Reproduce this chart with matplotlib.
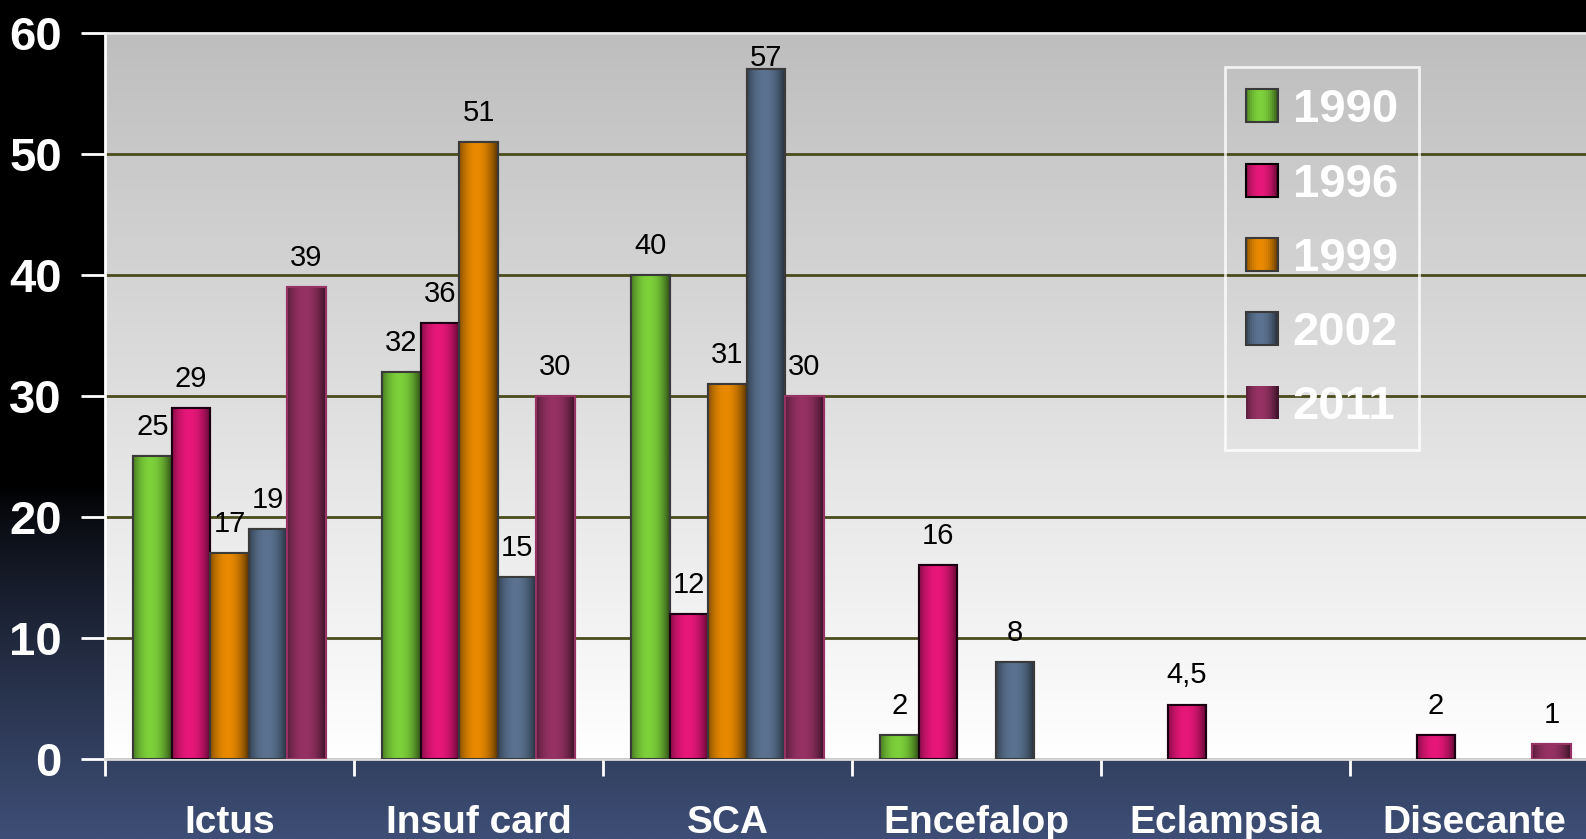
import numpy as np
import matplotlib
matplotlib.use('Agg')
from matplotlib import pyplot as plt
from matplotlib.patches import Rectangle
from matplotlib.legend_handler import HandlerBase
from matplotlib.colors import to_rgb

categories = ['Ictus', 'Insuf card', 'SCA', 'Encefalop', 'Eclampsia', 'Disecante']
years = ['1990', '1996', '1999', '2002', '2011']
v1990 = [25, 32, 40, 2, 0, 0]
v1996 = [29, 36, 12, 16, 4.5, 2]
v1999 = [17, 51, 31, 0, 0, 0]
v2002 = [19, 15, 57, 8, 0, 0]
v2011 = [39, 30, 30, 0, 0, 1.2]
lab1990 = ['25', '32', '40', '2', '', '']
lab1996 = ['29', '36', '12', '16', '4,5', '2']
lab1999 = ['17', '51', '31', '', '', '']
lab2002 = ['19', '15', '57', '8', '', '']
lab2011 = ['39', '30', '30', '', '', '1']

series = [v1990, v1996, v1999, v2002, v2011]
labels = [lab1990, lab1996, lab1999, lab2002, lab2011]
colors = ['#7dd13b', '#e8177a', '#e98a00', '#5b7391', '#963264']
edges = ['#3a3a3a', '#1a0010', '#3a3a3a', '#3a3a3a', '#963264']
leg_edges = ['#3a3a3a', '#000000', '#3a3a3a', '#3a3a3a', 'none']

plt.rcParams['font.family'] = ['Liberation Sans', 'DejaVu Sans']


def shade(c, t):
    f = 1 - 0.62 * (np.abs(t - 0.45) / 0.55) ** 2
    return np.clip(np.array(to_rgb(c)) * f, 0, 1)


class GradHandler(HandlerBase):
    def create_artists(self, legend, orig_handle, xdescent, ydescent,
                       width, height, fontsize, trans):
        c = orig_handle.get_facecolor()
        n = 16
        out = []
        for k in range(n):
            r = Rectangle((-xdescent + k * width / n, -ydescent), width / n + 0.3, height,
                          facecolor=shade(c, (k + 0.5) / n), edgecolor='none', transform=trans)
            out.append(r)
        out.append(Rectangle((-xdescent, -ydescent), width, height, facecolor='none',
                             edgecolor=orig_handle.get_edgecolor(), lw=1.5, transform=trans))
        return out


fig = plt.figure(figsize=(15.86, 8.39), dpi=100)

# figure background: black top fading to navy at the bottom
bg = fig.add_axes([0, 0, 1, 1], zorder=-10)
yy = np.linspace(0, 1, 400)
top = np.array([0, 0, 0])
bot = np.array([0x3e, 0x4e, 0x76]) / 255
mix = np.clip((0.42 - yy) / 0.42, 0, 1) ** 0.8
grad = (top[None, :] * (1 - mix[:, None]) + bot[None, :] * mix[:, None])[::-1]
bg.imshow(grad[:, None, :], aspect='auto', extent=[0, 1, 0, 1])
bg.axis('off')

ax = fig.add_axes([0.0662, 0.0954, 0.942, 0.8653])
ax.set_facecolor('none')
xmin, xmax = -0.5, 5.5
ymin, ymax = 0, 60

# plot area gradient
pg = np.linspace(0, 1, 200)
c_top = np.array([0xbe, 0xbe, 0xbe]) / 255
c_bot = np.array([1, 1, 1])
pgrad = c_top[None, :] * (1 - pg[:, None]) + c_bot[None, :] * pg[:, None]
ax.imshow(pgrad[:, None, :], aspect='auto', extent=[xmin, xmax, ymin, ymax], zorder=0)

x = np.arange(len(categories))
w = 0.1546
prof = np.linspace(0, 1, 64)
for i, vals in enumerate(series):
    xs = x + (i - 2) * w
    for xi, v, lb in zip(xs, vals, labels[i]):
        if v <= 0:
            continue
        b = ax.bar(xi, v, w, color=colors[i], edgecolor=edges[i], linewidth=1.5, zorder=3)[0]
        img = np.array([shade(colors[i], t) for t in prof])[None, :, :]
        im = ax.imshow(img, aspect='auto', extent=[xi - w / 2, xi + w / 2, 0, v],
                       interpolation='bilinear', zorder=3.5)
        im.set_clip_path(b)
        ax.bar(xi, v, w, color='none', edgecolor=edges[i], linewidth=1.5, zorder=4)
        ty = min(v + 2.4, 57.9)
        ax.text(xi, ty, lb, ha='center', va='center', fontsize=21, color='black', zorder=5)

ax.set_xlim(xmin, xmax)
ax.set_ylim(ymin, ymax)
ax.set_yticks(np.arange(0, 61, 10))
ax.yaxis.grid(True, color='#4b4b1e', linewidth=2, zorder=1)
ax.set_axisbelow(True)
ax.tick_params(axis='y', colors='white', length=17, width=2, pad=14, labelsize=34)
for t in ax.get_yticklabels():
    t.set_fontweight('bold')

ax.set_xticks(np.arange(-0.5, 5.6, 1.0))
ax.set_xticklabels([])
ax.tick_params(axis='x', colors='white', length=12, width=2)
ax.set_xticks(x, minor=True)
ax.set_xticklabels(categories, minor=True, fontsize=28, fontweight='bold', color='white')
ax.tick_params(axis='x', which='minor', length=0, pad=33)

ax.spines['right'].set_visible(False)
ax.spines['left'].set_color('white')
ax.spines['left'].set_linewidth(2)
ax.spines['top'].set_color('#eeeeee')
ax.spines['top'].set_linewidth(2)
ax.spines['bottom'].set_color('#d8d8d8')
ax.spines['bottom'].set_linewidth(2)

handles = [Rectangle((0, 0), 1, 1, facecolor=colors[i], edgecolor=leg_edges[i]) for i in range(5)]
leg = ax.legend(handles, years, loc='upper left', bbox_to_anchor=(0.7497, 0.953),
                handler_map={Rectangle: GradHandler()}, frameon=True, fancybox=False,
                prop={'weight': 'bold', 'size': 34}, labelcolor='white',
                handlelength=0.68, handleheight=0.7, handletextpad=0.3,
                labelspacing=0.64, borderpad=0.45, borderaxespad=0)
leg.get_frame().set_facecolor('none')
leg.get_frame().set_edgecolor('white')
leg.get_frame().set_linewidth(2)
leg.set_zorder(6)

fig.savefig('out.png', dpi=100)
